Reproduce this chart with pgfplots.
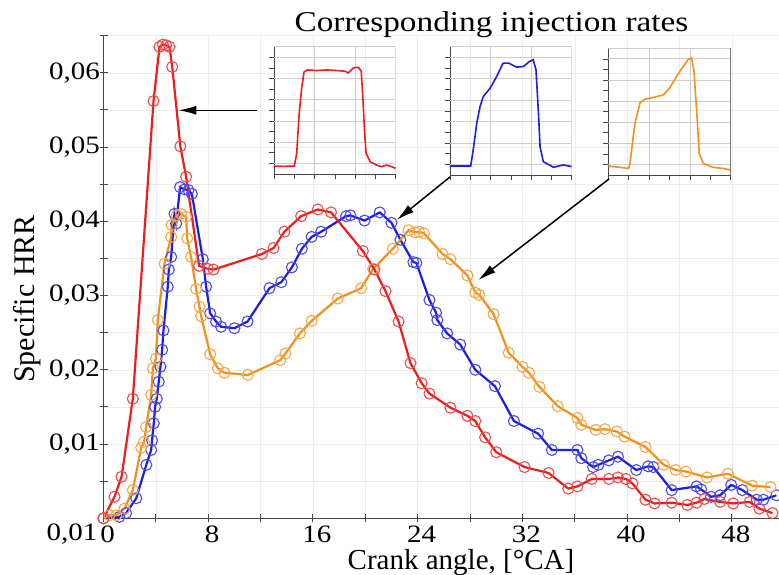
\documentclass[border=0pt]{standalone}
\usepackage{fontspec}
\setmainfont{Liberation Serif}
\newfontfamily\widefont{Liberation Serif}[FakeStretch=1.16]
\usepackage{pgfplots}
\pgfplotsset{compat=1.18}
\usetikzlibrary{arrows.meta}
\definecolor{cred}{RGB}{235,30,30}
\definecolor{cblue}{RGB}{30,30,225}
\definecolor{corange}{RGB}{240,145,30}
\definecolor{axisgray}{RGB}{70,70,70}
\definecolor{gridc}{RGB}{236,236,236}
\definecolor{igrid}{RGB}{205,205,205}
\pgfplotsset{
  inset/.style={
    scale only axis, width=121.7pt, height=127.3pt,
    xmin=0, xmax=3, ymin=0, ymax=12,
    axis x line=bottom, axis y line=left,
    axis line style={-, draw=axisgray, line width=0.8pt},
    xtick={0,1,2,3}, minor xtick={0.5,1.5,2.5},
    ytick={1,3,5,7,9,11}, minor ytick={2,4,6,8,10},
    xticklabels={}, yticklabels={},
    tick align=outside, major tick length=5pt, minor tick length=5pt,
    tick style={draw=axisgray, line width=0.6pt},
    extra y ticks={12}, extra y tick labels={},
    extra y tick style={tick style={draw=none}},
  },
  hrr/.style={line width=2.2pt, mark=o, mark size=5.5pt,
    mark options={solid, line width=1.1pt, draw=#1!80}, color=#1},
}
\newcommand\insetgrid{%
  \draw[igrid, line width=0.8pt] (axis cs:1,0) -- (axis cs:1,12)
    (axis cs:2,0) -- (axis cs:2,12) (axis cs:3,0) -- (axis cs:3,12)
    (axis cs:0,1) -- (axis cs:3,1) (axis cs:0,3) -- (axis cs:3,3)
    (axis cs:0,5) -- (axis cs:3,5) (axis cs:0,7) -- (axis cs:3,7)
    (axis cs:0,9) -- (axis cs:3,9) (axis cs:0,11) -- (axis cs:3,11)
    (axis cs:0,12) -- (axis cs:3,12);}
\begin{document}
\begin{tikzpicture}
\path[use as bounding box] (0pt,0pt) rectangle (779pt,575pt);
\begin{axis}[
  at={(103.5pt,56.7pt)}, anchor=south west,
  scale only axis, width=675.5pt, height=482.6pt,
  xmin=0, xmax=51.6, ymin=0, ymax=0.065,
  axis x line=bottom, axis y line=left,
  axis line style={-, draw=axisgray, line width=1pt},
  xtick={0,8,16,24,32,40,48}, minor xtick={4,12,20,28,36,44,52},
  ytick={0.01,0.02,0.03,0.04,0.05,0.06},
  minor ytick={0.005,0.015,0.025,0.035,0.045,0.055,0.065},
  scaled y ticks=false,
  tick align=center, major tick length=8pt, minor tick length=8pt,
  tick style={draw=axisgray, line width=1pt},
  grid=both, grid style={draw=gridc, line width=0.5pt},
  ticklabel style={font=\widefont\fontsize{25}{25}\selectfont},
  x tick label style={xshift=4pt},
  /pgf/number format/assume math mode=true,
  y tick label style={/pgf/number format/fixed, /pgf/number format/fixed zerofill,
    /pgf/number format/precision=2, /pgf/number format/use comma, xshift=4pt},
]
\addplot[hrr=cblue] coordinates {
(0,0) (1.22,0.0002) (1.73,0.0007) (2.5,0.0027) (3.27,0.0072) (3.64,0.0092) (3.71,0.0105)
(3.84,0.0128) (3.94,0.0150) (4.07,0.0161) (4.22,0.0184) (4.35,0.0204) (4.48,0.0227)
(4.58,0.0253) (4.91,0.0312) (4.99,0.0335) (5.17,0.0352) (5.42,0.0410) (5.55,0.0397)
(5.85,0.0446) (6.19,0.0443) (6.49,0.0442) (6.75,0.0437) (7.59,0.0349) (7.84,0.0312)
(8.15,0.0276) (8.6,0.0265) (8.98,0.0258) (10.0,0.0256) (11.0,0.0265) (12.68,0.0310)
(13.58,0.0318) (14.39,0.0338) (15.15,0.0363) (15.9,0.0379) (16.63,0.0386) (18.53,0.0407)
(18.86,0.0408) (19.94,0.0401) (21.1,0.0412) (22.0,0.0398) (22.68,0.0375) (23.67,0.0345)
(23.9,0.0344) (24.9,0.0294) (25.4,0.0277) (25.5,0.0267) (26.25,0.0249) (27.25,0.0234)
(28.4,0.0200) (29.9,0.0178) (31.35,0.0131) (33.2,0.0114) (34.25,0.0092) (36.2,0.0092)
(36.5,0.0081) (37.4,0.0069) (37.8,0.0072) (38.6,0.0078) (39.3,0.0083) (40.7,0.0065)
(41.6,0.0070) (42.0,0.0069) (43.4,0.0038) (45.3,0.0043) (45.65,0.0039) (46.4,0.0029)
(47.1,0.0031) (47.95,0.0045) (48.8,0.0038) (49.9,0.0025) (50.4,0.0025) (51.4,0.0031)
};
\addplot[hrr=corange] coordinates {
(0,0) (0.46,0.0004) (0.97,0.0004) (1.6,0.0013) (2.24,0.0038) (2.88,0.0095) (3.1,0.0103)
(3.26,0.0123) (3.64,0.0166) (3.77,0.0202) (4.0,0.0215) (4.15,0.0267) (4.66,0.0343)
(5.17,0.0379) (5.2,0.0395) (5.6,0.0408) (5.93,0.0410) (6.31,0.0406) (6.39,0.0377)
(6.69,0.0352) (7.07,0.0309) (7.33,0.0285) (7.46,0.0272) (8.15,0.0221) (8.73,0.0202)
(9.24,0.0196) (11.02,0.0193) (13.5,0.0213) (13.9,0.0222) (15.0,0.0249) (15.9,0.0266)
(17.9,0.0296) (19.68,0.0310) (20.6,0.0336) (22.1,0.0363) (23.3,0.0388) (23.8,0.0385)
(24.1,0.0386) (24.47,0.0384) (25.9,0.0356) (26.5,0.0349) (27.8,0.0327) (28.4,0.0304)
(28.7,0.0301) (29.8,0.0275) (30.95,0.0223) (32.0,0.0204) (32.5,0.0196) (33.3,0.0177)
(34.7,0.0151) (36.2,0.0135) (36.5,0.0126) (37.6,0.0119) (38.3,0.0120) (39.2,0.0117)
(39.8,0.0110) (41.4,0.0096) (42.8,0.0072) (43.7,0.0065) (44.5,0.0063) (46.1,0.0055)
(47.7,0.0060) (49.55,0.0044) (50.95,0.0042)
};
\addplot[hrr=cred] coordinates {
(0,0) (0.84,0.0029) (1.38,0.0056) (2.24,0.0161) (3.82,0.0562) (4.28,0.0635) (4.53,0.0638)
(4.79,0.0637) (5.04,0.0635) (5.25,0.0608) (5.87,0.0501) (6.31,0.0460) (7.3,0.0340)
(7.97,0.0336) (8.4,0.0335) (12.1,0.0356) (12.99,0.0364) (13.82,0.0386) (15.1,0.0407)
(16.37,0.0416) (17.38,0.0412) (19.81,0.0360) (20.7,0.0335) (21.54,0.0306) (22.54,0.0265)
(23.45,0.0209) (24.3,0.0182) (24.9,0.0168) (26.5,0.0149) (27.8,0.0138) (28.4,0.0131)
(29.15,0.0109) (30.0,0.0089) (32.16,0.0069) (34.0,0.0061) (35.5,0.0040) (36.2,0.0043)
(37.3,0.0053) (38.6,0.0053) (39.3,0.0055) (39.9,0.0053) (40.4,0.0047) (41.4,0.0025)
(42.1,0.0020) (43.4,0.0021) (44.6,0.0018) (45.3,0.0021) (45.9,0.0026) (47.1,0.0022)
(48.1,0.0020) (49.35,0.0022) (50.1,0.0013) (51.1,0.0007)
};
\end{axis}
% inset 1 (red)
\begin{axis}[inset, at={(274pt,401pt)}, anchor=south west]
\insetgrid
\addplot[cred, line width=1.6pt] coordinates {
(0,0.75) (0.23,0.72) (0.5,0.75) (0.56,1.94) (0.62,5.69) (0.68,8.03) (0.74,9.6) (0.82,9.81)
(1.05,9.75) (1.3,9.81) (1.55,9.75) (1.75,9.69) (1.83,9.53) (1.96,10.0) (2.08,10.06)
(2.15,9.69) (2.19,7.25) (2.23,4.13) (2.27,1.94) (2.37,1.16) (2.53,0.84) (2.65,0.69)
(2.78,0.84) (2.9,0.69) (3.0,0.53)
};
\end{axis}
% inset 2 (blue)
\begin{axis}[inset, at={(450pt,400pt)}, anchor=south west, height=128.3pt]
\insetgrid
\addplot[cblue, line width=1.6pt] coordinates {
(0,0.84) (0.51,0.84) (0.56,2.03) (0.66,4.84) (0.74,6.4) (0.82,7.34) (0.99,8.13) (1.15,9.21)
(1.31,10.47) (1.44,10.47) (1.64,10.09) (1.81,10.15) (1.96,10.62) (2.05,10.78) (2.12,9.84)
(2.18,5.81) (2.22,2.65) (2.3,1.25) (2.55,0.72) (2.79,0.94) (3.0,0.78)
};
\end{axis}
% inset 3 (orange)
\begin{axis}[inset, at={(608.3pt,400pt)}, anchor=south west, width=122.4pt, height=126.7pt]
\insetgrid
\addplot[corange, line width=1.6pt] coordinates {
(0,0.84) (0.29,0.72) (0.5,0.62) (0.53,1.09) (0.65,4.84) (0.78,6.87) (0.9,7.18) (1.1,7.34)
(1.35,7.59) (1.51,8.28) (1.68,9.37) (1.84,10.31) (1.96,10.94) (2.04,11.09) (2.1,9.84)
(2.17,5.78) (2.23,2.03) (2.33,1.09) (2.57,0.72) (2.82,0.62) (3.0,0.47)
};
\draw[axisgray, line width=0.8pt] (axis cs:3,0) -- (axis cs:3,12);
\end{axis}
% arrows
\draw[-{Latex[length=18pt,width=9pt]}, line width=1.5pt] (257pt,464.7pt) -- (178.3pt,464.7pt);
\draw[-{Latex[length=18pt,width=9pt]}, line width=1.5pt] (450pt,398pt) -- (396.7pt,355pt);
\draw[-{Latex[length=18pt,width=9pt]}, line width=1.5pt] (609pt,396pt) -- (478.3pt,295pt);
% texts
\node[anchor=base, font=\widefont\fontsize{28.7}{30}\selectfont, inner sep=0pt] at (491.5pt,543.3pt) {Corresponding injection rates};
\node[anchor=base, font=\fontsize{29}{30}\selectfont, inner sep=0pt] at (461pt,5.5pt) {Crank angle, [°CA]};
\node[anchor=base, rotate=90, font=\fontsize{30}{30}\selectfont, inner sep=0pt] at (34pt,276pt) {Specific HRR};
\node[anchor=base east, font=\widefont\fontsize{25}{25}\selectfont, inner sep=0pt] at (97.5pt,34.5pt) {0,01};
\end{tikzpicture}
\end{document}
